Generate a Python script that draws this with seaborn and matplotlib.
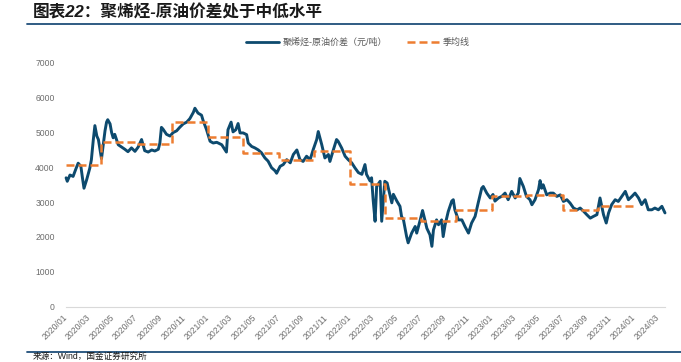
import pandas as pd
import matplotlib
matplotlib.use("Agg")
import matplotlib.pyplot as plt
import matplotlib.dates as mdates
from matplotlib.lines import Line2D
import seaborn as sns

# daily spread (yuan/ton)
dates = [
    "2020-01-02", "2020-01-05", "2020-01-12", "2020-01-20", "2020-01-27", "2020-02-02", "2020-02-09",
    "2020-02-13", "2020-02-17", "2020-02-24", "2020-03-03", "2020-03-07", "2020-03-12", "2020-03-16",
    "2020-03-21", "2020-03-25", "2020-04-02", "2020-04-11", "2020-04-15", "2020-04-18", "2020-04-24",
    "2020-04-28", "2020-05-02", "2020-05-06", "2020-05-15", "2020-05-24", "2020-06-01", "2020-06-09",
    "2020-06-18", "2020-06-27", "2020-07-05", "2020-07-14", "2020-07-22", "2020-07-31", "2020-08-09",
    "2020-08-17", "2020-08-26", "2020-08-30", "2020-09-03", "2020-09-07", "2020-09-16", "2020-09-25",
    "2020-10-03", "2020-10-12", "2020-10-20", "2020-10-29", "2020-11-07", "2020-11-15", "2020-11-24",
    "2020-11-28", "2020-12-06", "2020-12-15", "2020-12-19", "2020-12-28",
    "2021-01-06", "2021-01-14", "2021-01-23", "2021-01-27", "2021-02-05", "2021-02-17", "2021-02-21",
    "2021-03-01", "2021-03-06", "2021-03-13", "2021-03-19", "2021-03-24", "2021-04-01", "2021-04-10",
    "2021-04-14", "2021-04-23", "2021-05-01", "2021-05-10", "2021-05-18", "2021-05-27", "2021-06-04",
    "2021-06-13", "2021-06-22", "2021-06-26", "2021-07-05", "2021-07-13", "2021-07-22", "2021-07-31",
    "2021-08-08", "2021-08-17", "2021-08-25", "2021-09-02", "2021-09-11", "2021-09-20", "2021-09-28",
    "2021-10-07", "2021-10-11", "2021-10-20", "2021-10-28", "2021-11-06", "2021-11-10", "2021-11-19",
    "2021-11-27", "2021-12-01", "2021-12-10", "2021-12-19", "2021-12-27",
    "2022-01-05", "2022-01-13", "2022-01-22", "2022-01-31", "2022-02-08", "2022-02-12", "2022-02-21",
    "2022-02-25", "2022-03-01", "2022-03-06", "2022-03-10", "2022-03-19", "2022-03-23", "2022-03-31",
    "2022-04-06", "2022-04-13", "2022-04-18", "2022-04-22", "2022-05-01", "2022-05-09", "2022-05-13",
    "2022-05-18", "2022-05-22", "2022-05-26", "2022-05-30", "2022-06-08", "2022-06-17", "2022-06-21",
    "2022-06-30", "2022-07-06", "2022-07-12", "2022-07-17", "2022-07-25", "2022-07-30", "2022-08-03",
    "2022-08-11", "2022-08-16", "2022-08-24", "2022-08-28", "2022-09-02", "2022-09-10", "2022-09-19",
    "2022-09-23", "2022-09-27", "2022-10-06", "2022-10-15", "2022-10-23", "2022-11-01", "2022-11-09",
    "2022-11-18", "2022-11-26", "2022-12-05", "2022-12-09", "2022-12-18", "2022-12-27",
    "2023-01-03", "2023-01-08", "2023-01-17", "2023-01-26", "2023-02-03", "2023-02-11", "2023-02-20",
    "2023-03-01", "2023-03-09", "2023-03-13", "2023-03-22", "2023-03-30", "2023-04-08", "2023-04-13",
    "2023-04-21", "2023-04-30", "2023-05-04", "2023-05-08", "2023-05-12", "2023-05-21", "2023-05-30",
    "2023-06-07", "2023-06-16", "2023-06-25", "2023-07-03", "2023-07-12", "2023-07-20", "2023-07-29",
    "2023-08-07", "2023-08-15", "2023-08-24", "2023-09-01", "2023-09-10", "2023-09-18", "2023-09-27",
    "2023-10-05", "2023-10-14", "2023-10-21", "2023-10-27", "2023-11-04", "2023-11-13", "2023-11-21",
    "2023-11-30", "2023-12-09", "2023-12-17", "2023-12-26",
    "2024-01-03", "2024-01-12", "2024-01-20", "2024-01-29", "2024-02-06", "2024-02-15", "2024-02-23",
    "2024-03-03", "2024-03-12", "2024-03-20",
]
spread = [
    3700, 3600, 3780, 3740, 3950, 4120, 4030,
    3700, 3400, 3650, 3980, 4220, 4800, 5200,
    4900, 4800, 4250, 5050, 5300, 5370, 5250,
    5000, 4850, 4950, 4650, 4580, 4520, 4450,
    4560, 4460, 4580, 4800, 4480, 4440, 4500,
    4470, 4520, 4700, 5150, 5100, 4950, 4900,
    5000, 5050, 5150, 5250, 5300, 5400, 5580,
    5700, 5560, 5500, 5350, 5080,
    4750, 4700, 4720, 4700, 4650, 4440, 5080,
    5300, 5020, 5080, 5260, 4990, 4990, 4940,
    4700, 4600, 4560, 4500, 4420, 4270, 4180,
    3990, 3900, 3830, 4030, 4080, 4220, 4130,
    4370, 4500, 4220, 4170, 4320, 4220, 4510,
    4800, 5030, 4650, 4270, 4370, 4170, 4510,
    4800, 4750, 4560, 4320, 4220,
    4130, 3990, 3850, 3800, 4080, 3800, 3610,
    3700, 3070, 2450, 3450, 3600, 2450, 3600,
    3550, 3225, 2980, 3225, 3030, 2880, 2590,
    2490, 2250, 2010, 1830, 2110, 2300, 2110,
    2490, 2760, 2490, 2250, 2060, 1730, 2200,
    2490, 2350, 2490, 2010, 2350, 2730, 3030,
    3070, 2780, 2490, 2490, 2300, 2110, 2400,
    2590, 2980, 3400, 3450, 3260, 3120,
    3220, 3030, 3120, 3170, 3260, 3070, 3310,
    3120, 3260, 3680, 3450, 3165, 3070, 2925,
    3070, 3360, 3620, 3400, 3500, 3210, 3260,
    3260, 3165, 3210, 3020, 3070, 2975, 2830,
    2780, 2830, 2735, 2640, 2540, 2590, 2640,
    3120, 2640, 2400, 2690, 2930, 3070, 3020,
    3165, 3310, 3070, 3165,
    3260, 3120, 2930, 3070, 2780, 2780, 2830,
    2780, 2880, 2690,
]

# quarterly averages
quarters = [
    "2020-01-01", "2020-04-01", "2020-07-01", "2020-10-01",
    "2021-01-01", "2021-04-01", "2021-07-01", "2021-10-01",
    "2022-01-01", "2022-04-01", "2022-07-01", "2022-10-01",
    "2023-01-01", "2023-04-01", "2023-07-01", "2023-10-01",
]
quarter_avg = [
    4070, 4720, 4680, 5300,
    4860, 4400, 4210, 4470,
    3520, 2540, 2450, 2780,
    3190, 3200, 2760, 2900,
]
quarter_end = "2024-01-01"

title = "图表22：聚烯烃-原油价差处于中低水平"
source = "来源：Wind，国金证券研究所"
label_spread = "聚烯烃-原油价差（元/吨）"
label_quarter = "季均线"

blue = "#0d4a6e"
orange = "#ed7d31"
grey = "#6d6d6d"

sns.set_style("white")
plt.rcParams["font.family"] = ["Liberation Sans", "Noto Sans CJK SC", "DejaVu Sans"]

df = pd.DataFrame({"date": pd.to_datetime(dates), "spread": spread})
dq = pd.DataFrame({
    "date": pd.to_datetime(quarters + [quarter_end]),
    "avg": quarter_avg + [quarter_avg[-1]],
})

fig = plt.figure(figsize=(6.81, 3.62), dpi=100)
ax = fig.add_axes([65.7 / 681, 55.5 / 362, (665 - 65.7) / 681, 243.5 / 362])

sns.lineplot(data=df, x="date", y="spread", ax=ax, color=blue, linewidth=2.1)
sns.lineplot(data=dq, x="date", y="avg", ax=ax, color=orange, linewidth=1.8,
             drawstyle="steps-post")
ax.lines[-1].set_dashes((3.2, 1.6))
for ln in ax.lines:
    ln.set_clip_on(False)

ax.set_xlim(pd.Timestamp("2020-01-01"), pd.Timestamp("2024-03-20"))
ax.set_ylim(0, 7000)
ax.set_yticks(range(0, 7001, 1000))
ax.set_xlabel("")
ax.set_ylabel("")

ax.xaxis.set_major_locator(mdates.MonthLocator(bymonth=[1, 3, 5, 7, 9, 11]))
ax.xaxis.set_major_formatter(mdates.DateFormatter("%Y/%m"))
for lab in ax.get_xticklabels():
    lab.set_rotation(45)
    lab.set_ha("right")
    lab.set_va("center")
    lab.set_rotation_mode("anchor")

for s in ["left", "top", "right"]:
    ax.spines[s].set_visible(False)
ax.spines["bottom"].set_color("#d9d9d9")
ax.spines["bottom"].set_linewidth(0.8)
ax.tick_params(axis="x", length=3, width=0.8, color="#d9d9d9", labelsize=6.2,
               labelcolor=grey, pad=4)
ax.tick_params(axis="y", length=0, labelsize=6.2, labelcolor=grey, pad=8)
ax.grid(False)

handles = [
    Line2D([], [], color=blue, linewidth=2.0),
    Line2D([], [], color=orange, linewidth=1.8, dashes=(3.2, 1.6)),
]
fig.legend(handles, [label_spread, label_quarter], loc="center",
           bbox_to_anchor=(358 / 681, 320 / 362), ncol=2, frameon=False,
           fontsize=6.5, handlelength=3.6, handletextpad=0.4, columnspacing=2.2,
           labelcolor="#595959")

# header and footer
fig.text(33 / 681, 1 - 12 / 362, title, fontsize=12, fontweight="bold",
         style="italic", va="center", ha="left", color="#1a1a1a")
fig.add_artist(Line2D([27 / 681, 1], [1 - 24 / 362] * 2, color="#1f4e79", linewidth=1.3))
fig.add_artist(Line2D([27 / 681, 1], [10 / 362] * 2, color="#1f4e79", linewidth=1.3))
fig.text(33 / 681, 0.8 / 362, source, fontsize=6.2, va="bottom", ha="left", color="#1a1a1a")

fig.savefig("out.png", dpi=100)
